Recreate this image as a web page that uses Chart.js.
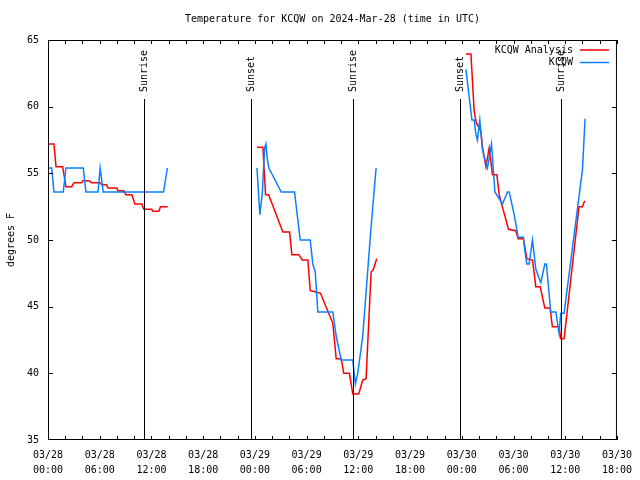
<!DOCTYPE html>
<html>
<head>
<meta charset="utf-8">
<script src="https://cdn.jsdelivr.net/npm/chart.js@4.4.1/dist/chart.umd.min.js"></script>
<style>
html, body { margin: 0; padding: 0; background: #fff; }
</style>
</head>
<body>
<canvas id="tempChart" width="640" height="480"></canvas>
<script>
var FONT = '"DejaVu Sans Mono", "Liberation Mono", monospace';

// hours after 03/28 00:00 UTC, a null temp breaks the line
var obsHours = [0, 0.43, 0.69, 1.77, 2.08, 4.09, 4.4, 5.8, 6.05, 6.4, 13.4, 13.85,
  19,
  24.24, 24.58, 24.86, 25.13, 25.28, 25.42, 25.62, 27.06, 28.6, 29.26, 30.42, 30.72, 31.0, 31.3,
  33.04, 33.43, 34.01, 35.35, 35.66, 35.93, 36.51, 37.09, 37.48, 38.06,
  43,
  48.48, 49.18, 49.44, 49.62, 49.81, 50.09, 50.39, 50.7, 50.98, 51.45, 51.84, 52.72, 53.3, 53.5,
  54.08, 54.54, 55.15, 55.31, 55.55, 55.81, 56.2, 56.59, 57.17, 57.63, 57.82, 58.32, 58.91, 59.29,
  59.48, 59.87, 62.0, 62.3];
var obsTemps = [55.4, 55.4, 53.6, 53.6, 55.4, 55.4, 53.6, 53.6, 55.4, 53.6, 53.6, 55.4,
  null,
  55.4, 51.9, 53.5, 56.9, 57.2, 56.2, 55.4, 53.6, 53.6, 50.0, 50.0, 48.2, 47.6, 44.6,
  44.6, 42.8, 41.0, 41.0, 39.2, 40.0, 42.8, 47.7, 51.0, 55.4,
  null,
  62.8, 59.0, 59.0, 58.0, 57.5, 59.0, 56.8, 56.0, 55.4, 57.2, 53.6, 52.7, 53.6, 53.6,
  51.9, 50.2, 50.2, 49.2, 48.2, 48.2, 50.0, 47.8, 46.8, 48.2, 48.2, 44.6, 44.6, 43.0,
  44.5, 44.5, 55.3, 59.1];

var anaHours = [0, 0.69, 0.93, 1.7, 2.08, 2.74, 3.01, 3.9, 4.05, 4.75, 5.06, 6.02, 6.25, 6.8, 6.95,
  7.99, 8.1, 8.8, 9.03, 9.73, 10.07, 10.88, 11.12, 12.04, 12.16, 12.85, 13.05, 13.9,
  19,
  24.24, 24.93, 25.24, 25.59, 27.25, 28.02, 28.29, 29.1, 29.49, 30.14, 30.42, 31.09, 31.61, 33.04,
  33.43, 34.01, 34.31, 34.97, 35.28, 35.35, 36.05, 36.51, 36.9, 37.2, 37.48, 37.75, 38.13,
  43,
  48.48, 49.06, 49.44, 49.68, 50.22, 50.41, 50.8, 51.18, 51.56, 52.07, 52.34, 52.54, 53.42, 54.27,
  54.54, 55.15, 55.55, 56.2, 56.59, 57.09, 57.63, 58.24, 58.51, 59.29, 59.48, 59.87, 61.6, 61.99, 62.26];
var anaTemps = [57.2, 57.2, 55.5, 55.5, 54.0, 54.0, 54.3, 54.3, 54.45, 54.45, 54.3, 54.3, 54.15, 54.15, 53.9,
  53.9, 53.7, 53.7, 53.4, 53.4, 52.7, 52.7, 52.3, 52.3, 52.15, 52.15, 52.5, 52.5,
  null,
  56.95, 56.95, 53.4, 53.4, 50.6, 50.6, 48.9, 48.9, 48.5, 48.5, 46.2, 46.1, 46.0, 43.75,
  41.1, 41.1, 40.0, 40.0, 38.75, 38.45, 38.45, 39.5, 39.6, 43.75, 47.6, 47.8, 48.6,
  null,
  63.95, 63.95, 59.65, 58.8, 58.15, 56.9, 55.5, 56.9, 54.9, 54.9, 53.4, 52.9, 50.8, 50.7,
  50.1, 50.1, 48.6, 48.5, 46.5, 46.5, 44.9, 44.9, 43.5, 43.5, 42.6, 42.6, 52.5, 52.5, 52.95];

var sunHours = [11.15, 23.58, 35.35, 47.78, 59.55];
var sunLabels = ['Sunrise', 'Sunset', 'Sunrise', 'Sunset', 'Sunrise'];
var dayLabels = ['03/28', '03/29', '03/30'];
var seriesNames = ['KCQW Analysis', 'KCQW'];
var seriesColors = ['#ff0000', '#0a80ff'];

function toPoints(hours, temps) {
  var pts = [];
  for (var i = 0; i < hours.length; i++) {
    pts.push({ x: hours[i], y: temps[i] });
  }
  return pts;
}

function hourLabel(v) {
  var hh = v % 24;
  return [dayLabels[Math.floor(v / 24)], (hh < 10 ? '0' : '') + hh + ':00'];
}

// border, inward ticks, sunrise/sunset lines and the legend, gnuplot style
var gnuplotBits = {
  id: 'gnuplotBits',
  afterDatasetsDraw: function(chart) {
    var ctx = chart.ctx;
    var a = chart.chartArea;
    var xs = chart.scales.x;
    var ys = chart.scales.y;
    ctx.save();
    ctx.strokeStyle = '#000';
    ctx.lineWidth = 1;
    ctx.beginPath();
    for (var h = 0; h <= 66; h += 2) {
      var px = Math.round(xs.getPixelForValue(h)) + 0.5;
      ctx.moveTo(px, a.bottom); ctx.lineTo(px, a.bottom - 4);
      ctx.moveTo(px, a.top); ctx.lineTo(px, a.top + 4);
    }
    for (var t = 40; t <= 60; t += 5) {
      var py = Math.round(ys.getPixelForValue(t)) + 0.5;
      ctx.moveTo(a.left, py); ctx.lineTo(a.left + 5, py);
      ctx.moveTo(a.right, py); ctx.lineTo(a.right - 5, py);
    }
    ctx.stroke();

    // sunrise / sunset
    ctx.fillStyle = '#000';
    ctx.font = '10px ' + FONT;
    var lineTop = Math.round(ys.getPixelForValue(60.6));
    for (var i = 0; i < sunHours.length; i++) {
      var sx = Math.round(xs.getPixelForValue(sunHours[i])) + 0.5;
      ctx.beginPath();
      ctx.moveTo(sx, lineTop);
      ctx.lineTo(sx, a.bottom);
      ctx.stroke();
      ctx.save();
      ctx.translate(sx, lineTop - 7);
      ctx.rotate(-Math.PI / 2);
      ctx.textAlign = 'left';
      ctx.textBaseline = 'middle';
      ctx.fillText(sunLabels[i], 0, 0);
      ctx.restore();
    }

    // legend
    ctx.textAlign = 'right';
    ctx.textBaseline = 'middle';
    for (var k = 0; k < seriesNames.length; k++) {
      var ly = a.top + 10 + k * 12.5;
      ctx.fillStyle = '#000';
      ctx.fillText(seriesNames[k], a.right - 44, ly);
      ctx.strokeStyle = seriesColors[k];
      ctx.lineWidth = 1.5;
      ctx.beginPath();
      ctx.moveTo(a.right - 37, ly);
      ctx.lineTo(a.right - 8, ly);
      ctx.stroke();
    }

    ctx.strokeStyle = '#000';
    ctx.lineWidth = 1;
    ctx.strokeRect(a.left + 0.5, a.top + 0.5, a.right - a.left - 1, a.bottom - a.top - 1);
    ctx.restore();
  }
};

var ctx = document.getElementById('tempChart').getContext('2d');
var tempChart = new Chart(ctx, {
  type: 'line',
  data: {
    datasets: [
      {
        label: seriesNames[1],
        data: toPoints(obsHours, obsTemps),
        borderColor: seriesColors[1],
        borderWidth: 1.5,
        pointRadius: 0,
        tension: 0,
        spanGaps: false,
        fill: false
      },
      {
        label: seriesNames[0],
        data: toPoints(anaHours, anaTemps),
        borderColor: seriesColors[0],
        borderWidth: 1.5,
        pointRadius: 0,
        tension: 0,
        spanGaps: false,
        fill: false
      }
    ]
  },
  options: {
    responsive: false,
    animation: false,
    devicePixelRatio: 1,
    layout: { padding: { left: 0, right: 22, top: 0, bottom: 0 } },
    plugins: {
      legend: { display: false },
      tooltip: { enabled: false },
      title: {
        display: true,
        fullSize: false,
        text: 'Temperature for KCQW on 2024-Mar-28 (time in UTC)',
        color: '#000',
        font: { family: FONT, size: 10, weight: 'normal', lineHeight: 1.2 },
        padding: { top: 13, bottom: 15 }
      }
    },
    scales: {
      x: {
        type: 'linear',
        min: 0,
        max: 66,
        grid: { display: false, drawTicks: false },
        border: { display: false },
        ticks: {
          stepSize: 6,
          autoSkip: false,
          maxRotation: 0,
          padding: 8,
          color: '#000',
          font: { family: FONT, size: 10, lineHeight: 1.5 },
          callback: function(v) { return hourLabel(v); }
        },
        afterFit: function(s) { s.height = 40; }
      },
      y: {
        min: 35,
        max: 65,
        grid: { display: false, drawTicks: false },
        border: { display: false },
        ticks: {
          stepSize: 5,
          padding: 9,
          color: '#000',
          font: { family: FONT, size: 10 }
        },
        title: {
          display: true,
          text: 'degrees F',
          color: '#000',
          font: { family: FONT, size: 10 },
          padding: { top: 5, bottom: 0 }
        },
        afterFit: function(s) { s.width = 48; }
      }
    }
  },
  plugins: [gnuplotBits]
});
</script>
</body>
</html>
